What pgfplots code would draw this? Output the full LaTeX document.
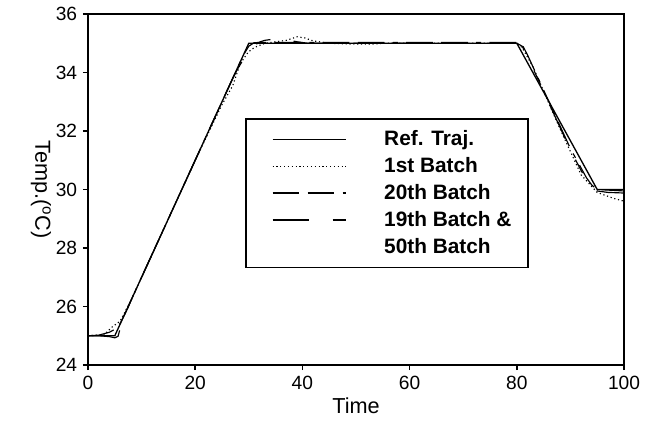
\documentclass[border=0pt]{standalone}
\usepackage{pgfplots}
\pgfplotsset{compat=1.18}
\usepackage{fontspec}
\setmainfont{Liberation Sans}
\begin{document}
\begin{tikzpicture}
\useasboundingbox (-52.8pt,-43.2pt) rectangle (343.2pt,219pt);
\begin{axis}[
  at={(0pt,0pt)}, anchor=south west,
  scale only axis, width=321.6pt, height=210.6pt,
  xmin=0, xmax=100, ymin=24, ymax=36,
  xtick={0,20,40,60,80,100}, ytick={24,26,28,30,32,34,36},
  tick align=outside, xtick pos=left, ytick pos=left,
  major tick length=3pt,
  /pgf/number format/assume math mode=true,
  ticklabel style={font=\fontsize{11.5}{13}\selectfont},
  axis line style={line width=1.2pt},
  every tick/.style={line width=0.9pt, black},
  xlabel={Time}, ylabel={Temp.(\textsuperscript{o}C)},
  label style={font=\fontsize{13}{15}\selectfont},
  xlabel style={yshift=2pt},
  ylabel style={rotate=180, yshift=4pt},
  legend style={at={(0.293,0.704)}, anchor=north west, draw=black, line width=1pt,
    font=\bfseries\fontsize{12.5}{14}\selectfont, row sep=1.6pt, inner xsep=8pt, inner ysep=5pt,
    cells={anchor=west}},
  legend image code/.code={\draw[#1, line width=0.7pt] (0pt,0pt) -- (44pt,0pt); \path[draw=none] (-8pt,0pt) -- (65pt,0pt);},
  legend cell align=left,
]
\addplot[black, line width=0.8pt] coordinates {(0,25)(5,25)(30,35)(80,35)(95,30)(100,30)};
\addlegendentry{Ref. Traj.}
\addplot[black, line width=0.7pt, dash pattern=on 0.7pt off 1.6pt] coordinates {
(0,25)(3,25.03)(4.5,25.3)(6,25.5)(8,26.2)(10,27)(15,29)(20,31)(25,32.9)(27,33.55)(28.4,34.3)(29.9,34.7)(31,34.85)(33,35)(37,35.1)(39,35.22)(40.5,35.18)(42,35.08)(45,35)(50,34.97)(53,34.97)(55,35)(80,35)(81,34.85)(83,34.2)(88,32.1)(92,30.5)(95,29.9)(98,29.7)(100,29.6)};
\addlegendentry{1st Batch}
\addplot[black, line width=0.7pt, dash pattern=on 16pt off 5pt on 16pt off 5pt on 3pt off 5pt] coordinates {
(0,25)(2,25.02)(4,25.12)(5,25.22)(6,25.42)(7,25.78)(8,26.2)(10,27)(15,29)(20,31)(25,33)(27,33.8)(28,34.2)(29,34.6)(30,34.9)(31,35.02)(33,35.03)(80,35.03)(81,34.95)(82,34.6)(85,33.4)(90,31.4)(93,30.4)(94,30.15)(95,30.0)(100,29.95)};
\addlegendentry{20th Batch}
\addplot[black, line width=0.7pt, dash pattern=on 22pt off 14pt on 9pt off 14pt] coordinates {
(0,25)(2,25)(4,24.97)(5,24.93)(5.6,24.98)(6.3,25.45)(8,26.2)(10,27)(15,29)(20,31)(25,33)(27,33.8)(28,34.15)(29,34.45)(30,34.72)(31,34.92)(32,35.04)(33,35.1)(35,35.15)(37,35.12)(39,35.05)(41,35.0)(80,35.0)(81,34.9)(82,34.55)(85,33.35)(90,31.35)(93,30.3)(94,30.05)(95,29.95)(97,29.9)(100,29.88)};
\addlegendentry{19th Batch \&}
\addlegendimage{empty legend}
\addlegendentry{50th Batch}
\end{axis}
\end{tikzpicture}
\end{document}
